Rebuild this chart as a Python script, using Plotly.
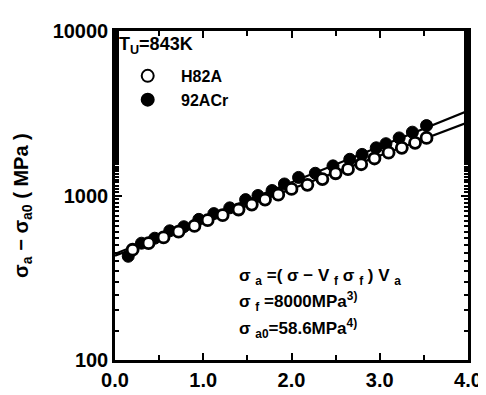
import plotly.graph_objects as go

# Data
strain_92ACr = [0.15, 0.3, 0.45, 0.62, 0.78, 0.95, 1.12, 1.3, 1.48, 1.62, 1.78, 1.92,
                2.08, 2.27, 2.47, 2.66, 2.80, 2.96, 3.07, 3.22, 3.37, 3.53]
stress_92ACr = [427, 513, 550, 610, 646, 716, 776, 841, 944, 1000, 1072, 1175,
                1288, 1365, 1514, 1660, 1778, 1950, 2065, 2239, 2427, 2661]

strain_H82A = [0.2, 0.38, 0.55, 0.72, 0.9, 1.05, 1.22, 1.4, 1.55, 1.7, 1.85, 2.0,
               2.18, 2.35, 2.5, 2.64, 2.79, 2.94, 3.1, 3.25, 3.4, 3.53]
stress_H82A = [468, 513, 556, 603, 653, 708, 759, 822, 881, 944, 1012, 1096,
               1161, 1259, 1365, 1445, 1549, 1679, 1820, 1950, 2089, 2239]

fit_x = [0.0, 4.0]
fit_92ACr = [442, 3273]
fit_H82A = [431, 2786]

x_ticks = [0, 1, 2, 3, 4]
x_ticklabels = ["0.0", "1.0", "2.0", "3.0", "4.0"]
y_ticks = [100, 1000, 10000]
y_ticklabels = ["100", "1000", "10000"]

FONT = "Liberation Sans, Arial, sans-serif"
NB = "\u00a0"

fig = go.Figure()
fig.add_trace(go.Scatter(x=fit_x, y=fit_92ACr, mode="lines",
                         line=dict(color="black", width=2.2), showlegend=False))
fig.add_trace(go.Scatter(x=fit_x, y=fit_H82A, mode="lines",
                         line=dict(color="black", width=2.2), showlegend=False))
fig.add_trace(go.Scatter(x=strain_92ACr, y=stress_92ACr, mode="markers", name=NB * 3 + "92ACr",
                         marker=dict(symbol="circle", size=12, color="black",
                                     line=dict(color="black", width=1))))
fig.add_trace(go.Scatter(x=strain_H82A, y=stress_H82A, mode="markers", name=NB * 3 + "H82A",
                         marker=dict(symbol="circle", size=11, color="white",
                                     line=dict(color="black", width=2.8))))

axis_common = dict(
    showline=True, linecolor="black", linewidth=2.5, mirror="ticks",
    ticks="inside", tickcolor="black", tickwidth=2, showgrid=False, zeroline=False,
    tickfont=dict(family=FONT, size=20, color="black", weight="bold"),
)

fig.update_xaxes(range=[0, 4], tickvals=x_ticks, ticktext=x_ticklabels, ticklen=7,
                 minor=dict(ticks="inside", dtick=0.5, ticklen=5, tickcolor="black", tickwidth=2),
                 **axis_common)
fig.update_yaxes(type="log", range=[2, 4], tickvals=y_ticks, ticktext=y_ticklabels, ticklen=7,
                 minor=dict(ticks="inside", ticklen=4, tickcolor="black", tickwidth=1.5),
                 **axis_common)

sp = NB
fig.update_layout(
    width=486, height=395,
    margin=dict(l=107, r=20, t=20, b=30),
    paper_bgcolor="white", plot_bgcolor="white",
    font=dict(family=FONT, color="black"),
    legend=dict(x=0.036, y=0.915, xanchor="left", yanchor="top", traceorder="reversed",
                bgcolor="rgba(0,0,0,0)", borderwidth=0, tracegroupgap=0,
                font=dict(family=FONT, size=16, color="black", weight="bold"),
                itemsizing="constant"),
    annotations=[
        dict(text="σ<sub>a</sub> − σ<sub>a0</sub> ( MPa )", xref="paper", yref="paper",
             x=-0.262, y=0.47, textangle=-90, showarrow=False, xanchor="center", yanchor="middle",
             font=dict(family=FONT, size=20, color="black", weight="bold")),
        dict(text="T<sub>U</sub>=843K", xref="paper", yref="paper",
             x=0.005, y=0.955, showarrow=False, xanchor="left", yanchor="middle",
             font=dict(family=FONT, size=18, color="black", weight="bold")),
        dict(text=f"σ{sp}<sub>a</sub>{sp}=({sp}σ{sp}−{sp}V{sp}<sub>f</sub>{sp}σ{sp}<sub>f</sub>{sp}){sp}V{sp}<sub>a</sub>",
             xref="paper", yref="paper",
             x=0.345, y=0.252, showarrow=False, xanchor="left", yanchor="middle",
             font=dict(family=FONT, size=17, color="black", weight="bold")),
        dict(text=f"σ{sp}<sub>f</sub>{sp}=8000MPa<sup>3)</sup>", xref="paper", yref="paper",
             x=0.345, y=0.178, showarrow=False, xanchor="left", yanchor="middle",
             font=dict(family=FONT, size=17, color="black", weight="bold")),
        dict(text=f"σ{sp}<sub>a0</sub>=58.6MPa<sup>4)</sup>", xref="paper", yref="paper",
             x=0.345, y=0.096, showarrow=False, xanchor="left", yanchor="middle",
             font=dict(family=FONT, size=17, color="black", weight="bold")),
    ],
)

fig.write_html("out.html")
